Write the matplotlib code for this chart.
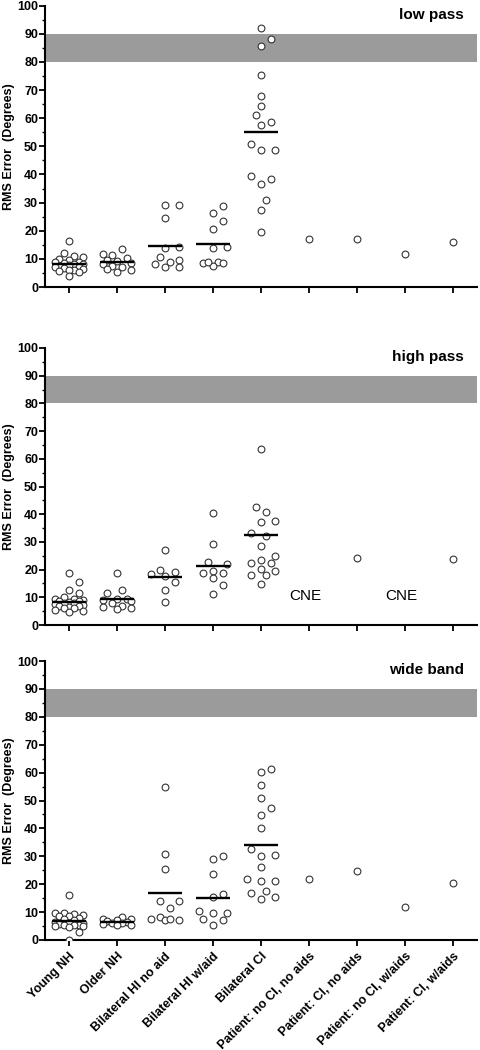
import numpy as np
import matplotlib
matplotlib.use("Agg")
import matplotlib.pyplot as plt
from matplotlib.ticker import MultipleLocator

plt.rcParams['font.family'] = ['Liberation Sans', 'DejaVu Sans']

groups = ["Young NH", "Older NH", "Bilateral HI no aid", "Bilateral HI w/aid",
          "Bilateral CI", "Patient: no CI, no aids", "Patient: CI, no aids",
          "Patient: no CI, w/aids", "Patient: CI, w/aids"]

panel_titles = ["low pass", "high pass", "wide band"]

# ---- low pass ----
low_young_nh = [16.3, 12.0, 11.0, 10.8, 9.8, 9.5, 9.0, 8.8, 8.5, 8.2, 8.0, 7.8,
                7.5, 7.2, 7.0, 6.8, 6.5, 6.2, 6.0, 5.8, 5.5, 4.0]
low_older_nh = [13.5, 11.8, 11.2, 10.3, 9.5, 9.3, 8.5, 8.0, 7.5, 7.0, 6.5, 6.0, 5.5]
low_hi_no_aid = [29.0, 29.0, 24.7, 14.2, 13.8, 10.5, 9.5, 9.0, 8.0, 7.0, 7.0]
low_hi_aid = [28.8, 26.2, 23.5, 20.5, 14.2, 13.8, 9.0, 8.5, 7.5, 8.5, 9.0]
low_bi_ci = [92.0, 88.0, 85.6, 75.5, 68.0, 64.2, 61.0, 58.5, 57.5, 51.0, 48.7,
             48.7, 39.4, 38.3, 36.6, 31.0, 27.5, 19.7]
low_patients = [17.0, 17.0, 11.6, 16.0]
low_means = [8.0, 8.9, 14.7, 15.3, 55.2]

# ---- high pass ----
high_young_nh = [18.8, 15.4, 12.5, 11.5, 10.0, 9.5, 9.3, 9.0, 8.8, 8.5, 8.3, 8.0,
                 7.8, 7.5, 7.2, 7.0, 6.8, 6.5, 6.2, 6.0, 5.5, 5.0, 4.8]
high_older_nh = [18.7, 12.5, 11.5, 9.5, 9.3, 9.0, 8.5, 8.0, 7.0, 6.5, 6.0, 5.8]
high_hi_no_aid = [27.0, 20.0, 19.3, 18.3, 17.8, 15.5, 12.5, 8.3]
high_hi_aid = [40.5, 29.4, 22.6, 22.0, 19.4, 18.6, 18.6, 16.8, 14.3, 11.3]
high_bi_ci = [63.7, 42.5, 40.7, 37.5, 37.3, 33.1, 32.3, 28.7, 24.9, 23.4, 22.5,
              22.5, 20.1, 19.6, 18.2, 18.0, 14.8]
high_patients = [None, 24.1, None, 24.0]   # None = could not evaluate
high_means = [8.2, 9.5, 17.3, 21.4, 32.5]

# ---- wide band ----
wide_young_nh = [16.0, 9.5, 9.5, 9.2, 9.0, 8.5, 8.5, 8.0, 7.5, 7.0, 6.5, 6.0, 6.0,
                 5.8, 5.5, 5.5, 5.2, 5.0, 5.0, 4.8, 3.0, 0.0]
wide_older_nh = [8.2, 7.7, 7.5, 7.0, 6.8, 6.5, 6.2, 6.0, 5.8, 5.5, 5.2]
wide_hi_no_aid = [54.7, 30.8, 25.3, 13.8, 13.8, 11.5, 8.4, 7.4, 7.0, 7.0, 7.4]
wide_hi_aid = [30.1, 28.9, 23.5, 16.4, 15.3, 10.3, 9.7, 9.5, 7.6, 7.1, 5.4]
wide_bi_ci = [61.2, 60.1, 55.6, 50.8, 47.4, 44.9, 40.3, 32.5, 30.5, 30.1, 26.0,
              21.9, 21.2, 21.0, 17.5, 17.0, 15.5, 14.6]
wide_patients = [22.0, 24.9, 11.9, 20.5]
wide_means = [6.8, 6.3, 17.0, 15.0, 33.9]

chance_band = (80, 90)
cne_label = "CNE"
cne_level = 10.5

panels = [
    ([low_young_nh, low_older_nh, low_hi_no_aid, low_hi_aid, low_bi_ci], low_patients, low_means),
    ([high_young_nh, high_older_nh, high_hi_no_aid, high_hi_aid, high_bi_ci], high_patients, high_means),
    ([wide_young_nh, wide_older_nh, wide_hi_no_aid, wide_hi_aid, wide_bi_ci], wide_patients, wide_means),
]

W, H = 481, 1050
fig = plt.figure(figsize=(W / 100, H / 100), dpi=100)

# axes boxes in pixels: (top, bottom)
boxes = [(5.7, 287), (348, 625), (661, 940)]
left_px, right_px = 45, 477


def swarm_x(ax, xc, ys, d_px=10.0, step_px=4.8, max_k=3):
    trans = ax.transData
    inv = trans.inverted()
    order = np.argsort(ys, kind='stable')
    placed = []
    xs = np.zeros(len(ys))
    cands = [0]
    for j in range(1, max_k + 1):
        cands += [j, -j]
    for i in order:
        xp0, yp = trans.transform((xc, ys[i]))
        best_c, best_d = 0, -1.0
        for c in cands:
            xp = xp0 + c * step_px
            md = min([np.hypot(xp - px, yp - py) for px, py in placed] + [1e9])
            if md >= d_px:
                best_c = c
                break
            if md > best_d + 0.5:
                best_d, best_c = md, c
        xp = xp0 + best_c * step_px
        placed.append((xp, yp))
        xs[i] = inv.transform((xp, yp))[0]
    return xs


for p, ((grp_vals, patients, means), title) in enumerate(zip(panels, panel_titles)):
    top, bot = boxes[p]
    ax = fig.add_axes([left_px / W, 1 - bot / H, (right_px - left_px) / W, (bot - top) / H])
    ax.set_xlim(-0.5, 8.5)
    ax.set_ylim(0, 100)

    ax.axhspan(chance_band[0], chance_band[1], color='#9b9b9b', zorder=0, lw=0)

    for gi, vals in enumerate(grp_vals):
        ys = np.array(vals, dtype=float)
        xs = swarm_x(ax, gi, ys)
        ax.scatter(xs, ys, s=24, facecolors='white', edgecolors='#333333',
                   linewidths=0.8, zorder=3)
        ax.hlines(means[gi], gi - 0.35, gi + 0.35, colors='black', lw=1.7, zorder=4)

    for k, v in enumerate(patients):
        gi = 5 + k
        if v is None:
            ax.text(gi - 0.08, cne_level, cne_label, ha='center', va='center',
                    fontsize=11, color='black')
        else:
            ax.scatter([gi], [v], s=24, facecolors='white', edgecolors='#333333',
                       linewidths=0.8, zorder=3)

    ax.text(0.97, 0.968, title, transform=ax.transAxes, ha='right', va='center',
            fontsize=11, fontweight='bold')

    for s in ['top', 'right']:
        ax.spines[s].set_visible(False)
    for s in ['left', 'bottom']:
        ax.spines[s].set_linewidth(1.5)

    ax.yaxis.set_major_locator(MultipleLocator(10))
    ax.yaxis.set_minor_locator(MultipleLocator(5))
    ax.tick_params(axis='y', which='major', length=4, width=1.3, labelsize=9, pad=1)
    ax.tick_params(axis='y', which='minor', length=2.5, width=1.0)
    ax.tick_params(axis='x', which='major', length=4, width=1.3, labelsize=9)
    for lab in ax.get_yticklabels():
        lab.set_fontweight('bold')
    ax.set_ylabel("RMS Error  (Degrees)", fontsize=9, fontweight='bold')
    ax.yaxis.set_label_coords(-0.07, 0.5)

    ax.set_xticks(range(len(groups)))
    if p == 2:
        ax.set_xticklabels(groups, rotation=45, ha='right', rotation_mode='anchor',
                           fontsize=9, fontweight='bold')
    else:
        ax.set_xticklabels([])

fig.savefig("out.png", dpi=100)
